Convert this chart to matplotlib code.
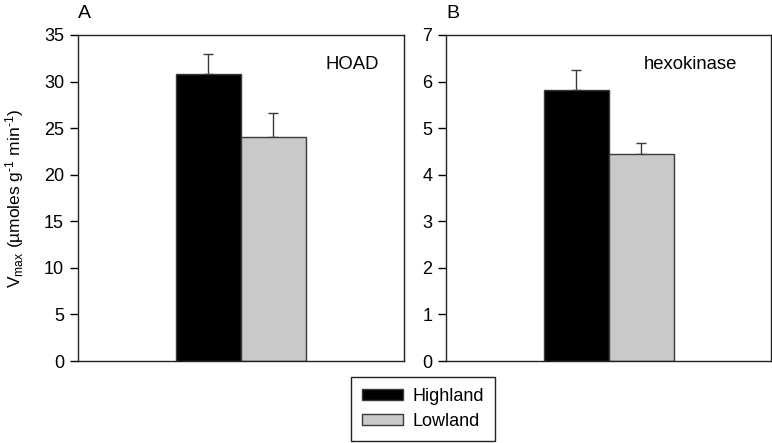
import numpy as np
import matplotlib
matplotlib.use('Agg')
import matplotlib.pyplot as plt
from matplotlib.patches import Patch

plt.rcParams['font.family'] = ['Liberation Sans', 'DejaVu Sans']
plt.rcParams['mathtext.fontset'] = 'custom'
plt.rcParams['mathtext.rm'] = 'Liberation Sans'
plt.rcParams['mathtext.it'] = 'Liberation Sans:italic'

groups = ['Highland', 'Lowland']
colors = ['#000000', '#c8c9cb']
panels = ['A', 'B']
enzymes = ['HOAD', 'hexokinase']
means = [[30.8, 24.0], [5.82, 4.45]]
errs = [[2.2, 2.6], [0.43, 0.23]]
ylims = [35, 7]
ysteps = [5, 1]
label_x = [0.925, 0.895]

fig = plt.figure(figsize=(7.72, 4.43), dpi=100)
ax_a = fig.add_axes([0.101, 0.185, 0.422, 0.736])
ax_b = fig.add_axes([0.578, 0.185, 0.421, 0.736])

for i, ax in enumerate([ax_a, ax_b]):
	for j in range(len(groups)):
		ax.bar(0.4 + 0.2 * j, means[i][j], width=0.2, color=colors[j],
			edgecolor='#3a3a3a', linewidth=1.0, zorder=2)
		ax.errorbar(0.4 + 0.2 * j, means[i][j], yerr=[[0], [errs[i][j]]],
			fmt='none', ecolor='#3a3a3a', elinewidth=1.0, capsize=3.6, capthick=1.0, zorder=1)
	ax.set_xlim(0, 1)
	ax.set_ylim(0, ylims[i])
	ax.set_yticks(np.arange(0, ylims[i] + 0.001, ysteps[i]))
	ax.set_xticks([])
	ax.tick_params(axis='y', direction='out', length=6, width=1, labelsize=13, pad=4)
	for s in ax.spines.values():
		s.set_linewidth(1.0)
		s.set_color('#222222')
	ax.text(0.0, 1.04, panels[i], transform=ax.transAxes, fontsize=14, ha='left', va='bottom')
	ax.text(label_x[i], 0.91, enzymes[i], transform=ax.transAxes, fontsize=13.3, ha='right', va='center')

ax_a.set_ylabel(r'V$_{\rm max}$ (µmoles g$^{\text{-}1}$ min$^{\text{-}1}$)', fontsize=12.5)
ax_a.yaxis.set_label_coords(-0.158, 0.5)

handles = [Patch(facecolor=colors[j], edgecolor='#3a3a3a', label=groups[j]) for j in range(len(groups))]
fig.legend(handles=handles, loc='upper left', bbox_to_anchor=(351 / 772, 1 - 377 / 443),
	fontsize=13, frameon=True, fancybox=False, edgecolor='#222222', framealpha=1, borderaxespad=0,
	handlelength=2.3, handleheight=0.5, borderpad=0.6, labelspacing=0.45, handletextpad=0.5)

fig.savefig('out.png', dpi=100)
